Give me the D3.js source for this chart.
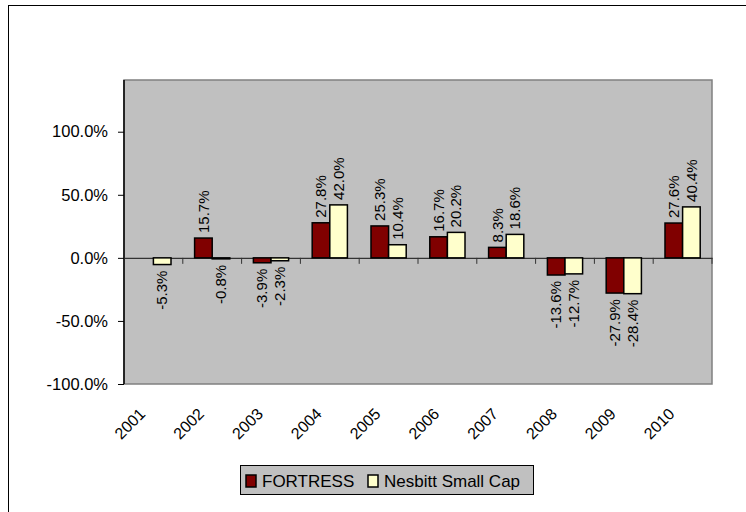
<!DOCTYPE html>
<html>
<head>
  <meta charset='utf-8'>
  <title>FORTRESS vs Nesbitt Small Cap</title>
  <script src="https://d3js.org/d3.v7.min.js"></script>
  <style>
    body { margin: 0; background: #fff; }
    text { font-family: 'Liberation Sans', Arial, sans-serif; fill: #000; }
  </style>
</head>
<body>
<svg width="746" height="512"></svg>
<script>

  let years = ['2001','2002','2003','2004','2005','2006','2007','2008','2009','2010'];
  let fortress = [null, 15.7, -3.9, 27.8, 25.3, 16.7, 8.3, -13.6, -27.9, 27.6];
  let nesbitt = [-5.3, -0.8, -2.3, 42.0, 10.4, 20.2, 18.6, -12.7, -28.4, 40.4];
  let seriesNames = ['FORTRESS', 'Nesbitt Small Cap'];
  let seriesColors = ['#800000', '#FFFFCC'];
  let yTicks = [-100, -50, 0, 50, 100];

  // excel style percent, plain hyphen for minus
  let pct = v => v.toFixed(1) + '%';

  let svg = d3.select('svg');

  // chart frame
  svg.append('rect')
    .attr('x', 8.5).attr('y', 5.5)
    .attr('width', 760).attr('height', 520)
    .attr('fill', '#fff').attr('stroke', '#000').attr('stroke-width', 1);

  let plot = {left: 124, top: 80, right: 712, bottom: 384};

  let x = d3.scaleBand()
    .domain(years)
    .range([plot.left, plot.right])
    .paddingInner(0).paddingOuter(0);

  let inner = d3.scaleBand()
    .domain([0, 1])
    .range([0, x.bandwidth()])
    .paddingInner(0)
    .paddingOuter(0.67);

  let y = d3.scaleLinear()
    .domain([-100, 141])
    .range([plot.bottom, plot.top]);

  svg.append('rect')
    .attr('x', plot.left).attr('y', plot.top)
    .attr('width', plot.right - plot.left).attr('height', plot.bottom - plot.top)
    .attr('fill', '#C0C0C0').attr('stroke', '#808080').attr('stroke-width', 1.5);

  // y axis
  let yAxis = svg.append('g')
    .attr('transform', `translate(${plot.left},0)`)
    .call(d3.axisLeft(y).tickValues(yTicks).tickSize(6).tickPadding(10)
      .tickFormat(pct));
  yAxis.select('.domain').attr('stroke', '#000').attr('stroke-width', 1.5)
    .attr('d', `M0,${plot.top}V${plot.bottom}`);
  yAxis.selectAll('.tick line').attr('stroke', '#000');
  yAxis.selectAll('.tick text').style('font-size', '16.5px');

  // zero line with category ticks
  let xAxis = svg.append('g')
    .attr('transform', `translate(0,${y(0)})`)
    .call(d3.axisBottom(x).tickSize(0).tickFormat(''));
  xAxis.select('.domain').attr('stroke', '#333').attr('stroke-width', 1.2);
  xAxis.selectAll('.tick').remove();
  xAxis.selectAll('line.sep')
    .data(years)
    .enter().append('line')
    .attr('class', 'sep')
    .attr('x1', d => x(d) + x.bandwidth())
    .attr('x2', d => x(d) + x.bandwidth())
    .attr('y1', 0).attr('y2', 6)
    .attr('stroke', '#333').attr('stroke-width', 1);

  // bars
  let rows = [];
  years.forEach(function (yr, i) {
    [fortress[i], nesbitt[i]].forEach(function (v, s) {
      if (v !== null) rows.push({year: yr, s: s, v: v});
    });
  });

  svg.selectAll('rect.bar')
    .data(rows)
    .enter().append('rect')
    .attr('class', 'bar')
    .attr('x', d => x(d.year) + inner(d.s))
    .attr('width', inner.bandwidth())
    .attr('y', d => y(Math.max(0, d.v)))
    .attr('height', d => Math.abs(y(d.v) - y(0)))
    .attr('fill', d => seriesColors[d.s])
    .attr('stroke', '#000').attr('stroke-width', 1.5);

  // data labels
  svg.selectAll('text.lbl')
    .data(rows)
    .enter().append('text')
    .attr('class', 'lbl')
    .attr('transform', function (d) {
      let cx = x(d.year) + inner(d.s) + inner.bandwidth() / 2;
      let cy = d.v >= 0 ? y(d.v) - 5 : y(d.v) + 6;
      return `translate(${cx},${cy}) rotate(-90)`;
    })
    .attr('text-anchor', d => d.v >= 0 ? 'start' : 'end')
    .attr('dy', '0.35em')
    .style('font-size', '15px')
    .text(d => pct(d.v));

  // x labels
  svg.selectAll('text.year')
    .data(years)
    .enter().append('text')
    .attr('class', 'year')
    .attr('transform', d => `translate(${x(d) + x.bandwidth() / 2 - 11},${plot.bottom + 27}) rotate(-45)`)
    .attr('text-anchor', 'end')
    .attr('dy', '0.35em')
    .style('font-size', '16px')
    .text(d => d);

  // legend
  let legend = svg.append('g').attr('transform', 'translate(240,465)');
  legend.append('rect')
    .attr('x', 0.5).attr('y', 0.5).attr('width', 293).attr('height', 29)
    .attr('fill', '#C0C0C0').attr('stroke', '#000').attr('stroke-width', 1);
  let offsets = [6, 128];
  seriesNames.forEach(function (n, i) {
    let g = legend.append('g').attr('transform', `translate(${offsets[i]},10)`);
    g.append('rect').attr('width', 10).attr('height', 12)
      .attr('fill', seriesColors[i]).attr('stroke', '#000').attr('stroke-width', 1.5);
    g.append('text').attr('x', 16).attr('y', 12)
      .style('font-size', '17px').text(n);
  });

</script>
</body>
</html>
